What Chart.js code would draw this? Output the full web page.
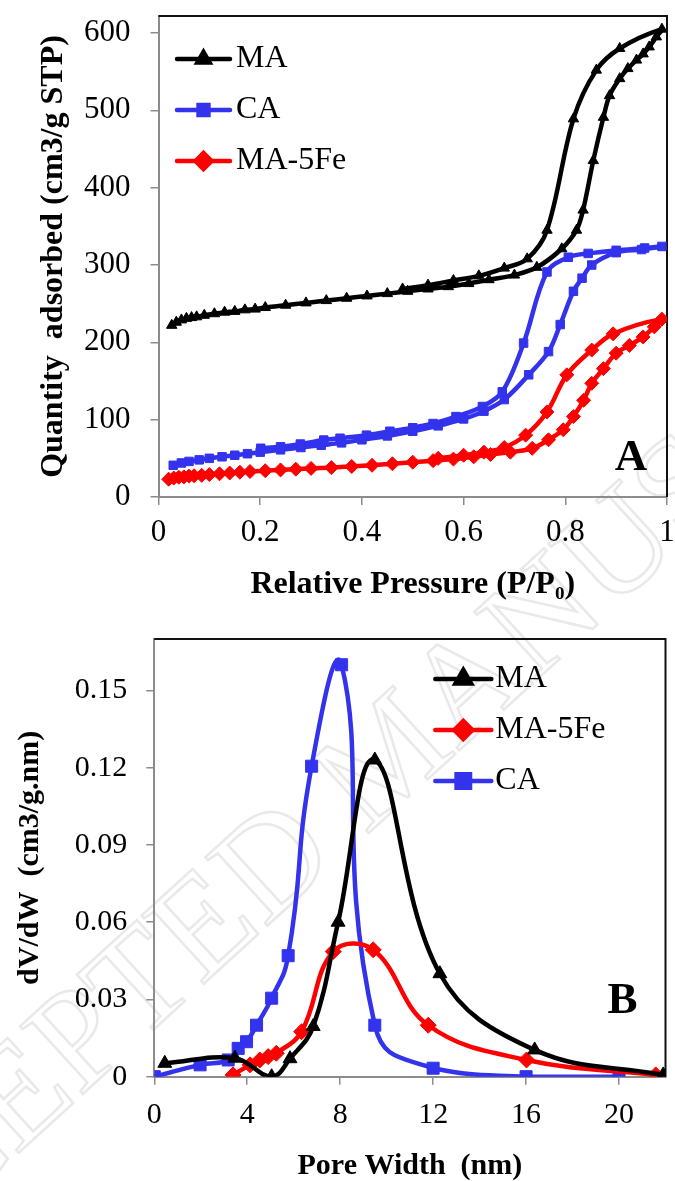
<!DOCTYPE html>
<html>
<head>
<meta charset="utf-8">
<script src="https://cdn.jsdelivr.net/npm/chart.js@4.4.1/dist/chart.umd.min.js"></script>
<style>
  html, body { margin: 0; padding: 0; background: #fff; }
  #watermark { position: absolute; left: 0; top: 0; }
  .panel { position: absolute; left: 0; width: 675px; }
  #panelA { top: 0; height: 610px; }
  #panelB { top: 610px; height: 571px; }
</style>
</head>
<body>
<canvas id="watermark" width="675" height="1181"></canvas>
<div class="panel" id="panelA"><canvas id="isothermChart"></canvas></div>
<div class="panel" id="panelB"><canvas id="poreChart"></canvas></div>
<script>
const SERIF = "'Liberation Serif', 'Times New Roman', serif";

// ---- panel A : N2 adsorption / desorption isotherms ----
const pressureTicks = [0, 0.2, 0.4, 0.6, 0.8, 1];
const quantityTicks = [0, 100, 200, 300, 400, 500, 600];

const maAdsP = [0.026, 0.035, 0.045, 0.055, 0.065, 0.075, 0.09, 0.11, 0.13, 0.15, 0.17, 0.19, 0.21, 0.25, 0.29, 0.33, 0.37, 0.41, 0.45, 0.49, 0.53, 0.57, 0.61, 0.65, 0.70, 0.744, 0.793, 0.822, 0.835, 0.855, 0.875, 0.887, 0.907, 0.923, 0.94, 0.953, 0.965, 0.979, 0.99];
const maAdsQ = [222, 226, 229, 231, 232, 233, 235, 237, 239, 240, 242, 243, 245, 248, 251, 254, 257, 260, 263, 266, 269, 272, 276, 281, 287, 297, 321, 345, 371, 435, 491, 519, 541, 554, 565, 573, 582, 595, 605];
const maDesP = [0.907, 0.861, 0.816, 0.764, 0.725, 0.68, 0.63, 0.58, 0.53, 0.48];
const maDesQ = [580, 552, 489, 345, 308, 296, 286, 280, 274, 269];

const caAdsP = [0.029, 0.045, 0.06, 0.08, 0.10, 0.125, 0.15, 0.175, 0.20, 0.24, 0.28, 0.32, 0.36, 0.40, 0.45, 0.50, 0.55, 0.60, 0.64, 0.68, 0.728, 0.767, 0.79, 0.816, 0.833, 0.852, 0.90, 0.95, 0.99];
const caAdsQ = [41, 44, 46, 48, 50, 52, 54, 56, 58, 61, 64, 67, 70, 74, 79, 85, 92, 101, 111, 126, 158, 188, 223, 266, 283, 300, 316, 320, 324];
const caDesP = [0.956, 0.90, 0.845, 0.806, 0.764, 0.718, 0.676, 0.637, 0.585, 0.54, 0.50, 0.455, 0.409, 0.357, 0.325, 0.279, 0.24, 0.201];
const caDesQ = [322, 319, 315, 310, 291, 199, 136, 117, 104, 95, 89.5, 85, 80, 76, 73.6, 68.5, 65, 63];

const feAdsP = [0.02, 0.03, 0.04, 0.05, 0.06, 0.07, 0.085, 0.10, 0.12, 0.14, 0.16, 0.18, 0.21, 0.24, 0.27, 0.30, 0.34, 0.38, 0.42, 0.46, 0.50, 0.54, 0.58, 0.62, 0.653, 0.692, 0.735, 0.767, 0.796, 0.816, 0.836, 0.852, 0.875, 0.90, 0.926, 0.953, 0.975, 0.99];
const feAdsQ = [23, 24.5, 25.5, 26, 27, 27.5, 28, 29, 30, 31, 32, 33, 34, 35, 36, 37, 38, 39.5, 41, 43, 45, 47, 49, 52, 55, 58, 63, 74, 87, 104, 125, 147, 166, 186, 196, 207, 220, 230];
const feDesP = [0.894, 0.852, 0.803, 0.764, 0.722, 0.68, 0.64, 0.60, 0.55];
const feDesQ = [211, 190, 158, 110, 80, 64, 58, 54, 50];

// ---- panel B : pore size distribution ----
const widthTicks = [0, 4, 8, 12, 16, 20];
const dvdwTicks = [0, 0.03, 0.06, 0.09, 0.12, 0.15];

const maW = [0.45, 3.47, 5.05, 5.84, 6.84, 7.91, 9.49, 12.29, 16.37, 21.9];
const maV = [0.0052, 0.0072, 0.0, 0.007, 0.0195, 0.060, 0.123, 0.040, 0.0104, 0.0007];
const feW = [3.39, 4.12, 4.54, 4.9, 5.25, 6.34, 7.7, 9.42, 11.79, 16.02, 21.58];
const feV = [0.0007, 0.0046, 0.0065, 0.0078, 0.0091, 0.0175, 0.0486, 0.0493, 0.020, 0.0065, 0.0007];
const caW = [0, 1.97, 3.18, 3.61, 3.97, 4.40, 5.05, 5.76, 6.77, 8.06, 9.49, 12.0, 16.0, 20.0];
const caV = [0, 0.0046, 0.0065, 0.011, 0.0136, 0.020, 0.0305, 0.047, 0.1206, 0.160, 0.020, 0.0033, 0, 0];

const BLACK = "#000000";
const BLUE = "#3333ee";
const RED = "#ff0000";

// faint "accepted manuscript" stamp behind both panels
const drawWatermark = () => {
  const ctx = document.getElementById("watermark").getContext("2d");
  const text = "ACCEPTED MANUSCRIPT";
  ctx.font = `141px ${SERIF}`;
  const before = ctx.measureText(text.slice(0, 7)).width;
  const half = ctx.measureText("D").width / 2;
  ctx.save();
  ctx.translate(271, 860);
  ctx.rotate(-42.4 * Math.PI / 180);
  ctx.strokeStyle = "#e9e9e9";
  ctx.lineWidth = 2.5;
  ctx.textBaseline = "alphabetic";
  ctx.strokeText(text, -(before + half), 46);
  ctx.restore();
};
drawWatermark();

const toPoints = (xs, ys) => xs.map((x, i) => ({ x, y: ys[i] }));

const series = (label, color, pointStyle, radius, data, tension, width) => ({
  label,
  data,
  showLine: true,
  borderColor: color,
  backgroundColor: color,
  borderWidth: width,
  tension,
  pointStyle,
  pointRadius: radius,
  pointHoverRadius: radius,
  pointBorderWidth: 1,
  pointBorderColor: color,
  pointBackgroundColor: color
});

const axis = ({ min, max, ticks, horizontal, size, tickFont, tickPad, title, titleFont, titlePad }) => ({
  type: "linear",
  position: horizontal ? "bottom" : "left",
  min,
  max,
  afterBuildTicks: (scale) => {
    scale.ticks = ticks.map((value) => ({ value }));
  },
  afterFit: (scale) => {
    if (horizontal) scale.height = size;
    else scale.width = size;
    scale.paddingLeft = 0;
    scale.paddingRight = 0;
    scale.paddingTop = 0;
    scale.paddingBottom = 0;
  },
  grid: { drawOnChartArea: false, tickLength: 8, color: "#8c8c8c", lineWidth: 1.5 },
  border: { color: "#8c8c8c", width: 2 },
  ticks: {
    color: BLACK,
    autoSkip: false,
    maxRotation: 0,
    padding: tickPad,
    font: { family: SERIF, size: tickFont },
    callback: (value) => String(value)
  },
  title: {
    display: true,
    text: title,
    color: BLACK,
    font: { family: SERIF, size: titleFont, weight: "bold", lineHeight: 1 },
    padding: titlePad
  }
});

// top and right edges of the plot frame
const plotFrame = {
  id: "plotFrame",
  beforeDatasetsDraw(chart) {
    const { ctx, chartArea: a } = chart;
    ctx.save();
    ctx.strokeStyle = "#111";
    ctx.lineWidth = 2;
    ctx.beginPath();
    ctx.moveTo(a.left, a.top);
    ctx.lineTo(a.right, a.top);
    ctx.lineTo(a.right, a.bottom);
    ctx.stroke();
    ctx.restore();
  }
};

const insideLegend = {
  id: "insideLegend",
  afterDraw(chart, args, opts) {
    const { ctx, chartArea: a } = chart;
    ctx.save();
    ctx.font = `${opts.fontSize}px ${SERIF}`;
    ctx.textBaseline = "middle";
    ctx.textAlign = "left";
    opts.order.forEach((dsIndex, row) => {
      const ds = chart.data.datasets[dsIndex];
      const y = a.top + opts.top + row * opts.rowGap;
      const x0 = a.left + opts.left;
      const x1 = x0 + opts.lineLength;
      ctx.strokeStyle = ds.borderColor;
      ctx.fillStyle = ds.borderColor;
      ctx.lineWidth = ds.borderWidth;
      ctx.lineCap = "round";
      ctx.beginPath();
      ctx.moveTo(x0, y);
      ctx.lineTo(x1, y);
      ctx.stroke();
      Chart.helpers.drawPoint(ctx, { pointStyle: ds.pointStyle, radius: ds.pointRadius + 1, borderWidth: 1, rotation: 0 }, (x0 + x1) / 2, y);
      ctx.fillStyle = BLACK;
      ctx.fillText(ds.label, x1 + opts.gap, y);
    });
    ctx.restore();
  }
};

const panelLetter = {
  id: "panelLetter",
  afterDraw(chart, args, opts) {
    const { ctx, chartArea: a } = chart;
    ctx.save();
    ctx.font = `bold ${opts.size}px ${SERIF}`;
    ctx.fillStyle = BLACK;
    ctx.textAlign = "center";
    ctx.textBaseline = "alphabetic";
    ctx.fillText(opts.text, a.right + opts.dx, a.bottom + opts.dy);
    ctx.restore();
  }
};

const baseOptions = (padding, scales, legend, letter) => ({
  responsive: true,
  maintainAspectRatio: false,
  animation: false,
  layout: { padding },
  scales,
  plugins: {
    legend: { display: false },
    tooltip: { enabled: false },
    insideLegend: legend,
    panelLetter: letter
  }
});

new Chart(document.getElementById("isothermChart"), {
  type: "scatter",
  data: {
    datasets: [
      series("MA", BLACK, "triangle", 6, toPoints(maAdsP.concat(maDesP), maAdsQ.concat(maDesQ)), 0.35, 4.5),
      series("CA", BLUE, "rect", 6, toPoints(caAdsP.concat(caDesP), caAdsQ.concat(caDesQ)), 0.35, 4.5),
      series("MA-5Fe", RED, "rectRot", 7, toPoints(feAdsP.concat(feDesP), feAdsQ.concat(feDesQ)), 0.35, 4.5)
    ]
  },
  options: baseOptions(
    { top: 16, right: 4, bottom: 0, left: 0 },
    {
      x: axis({ min: 0, max: 1, ticks: pressureTicks, horizontal: true, size: 113, tickFont: 31, tickPad: 9,
        title: "Relative Pressure (P/P\u2080)", titleFont: 32, titlePad: { top: 0, bottom: 9 } }),
      y: axis({ min: 0, max: 622, ticks: quantityTicks, horizontal: false, size: 158.5, tickFont: 31, tickPad: 20,
        title: "Quantity  adsorbed (cm3/g STP)", titleFont: 32, titlePad: { top: 38, bottom: 0 } })
    },
    { order: [0, 1, 2], left: 18.5, top: 43, rowGap: 51, lineLength: 53, gap: 6, fontSize: 32 },
    { text: "A", size: 45, dx: -36, dy: -27 }
  ),
  plugins: [plotFrame, insideLegend, panelLetter]
});

new Chart(document.getElementById("poreChart"), {
  type: "scatter",
  data: {
    datasets: [
      series("MA", BLACK, "triangle", 8, toPoints(maW, maV), 0.4, 4.5),
      series("MA-5Fe", RED, "rectRot", 8, toPoints(feW, feV), 0.4, 4.5),
      series("CA", BLUE, "rect", 8.5, toPoints(caW, caV), 0.5, 4.5)
    ]
  },
  options: baseOptions(
    { top: 29, right: 9, bottom: 0, left: 0 },
    {
      x: axis({ min: 0, max: 22, ticks: widthTicks, horizontal: true, size: 104.3, tickFont: 30, tickPad: 12,
        title: "Pore Width  (nm)", titleFont: 30, titlePad: { top: 0, bottom: 0 } }),
      y: axis({ min: 0, max: 0.17, ticks: dvdwTicks, horizontal: false, size: 154.3, tickFont: 30, tickPad: 19,
        title: "dV/dW  (cm3/g.nm)", titleFont: 30, titlePad: { top: 15, bottom: 0 } })
    },
    { order: [0, 1, 2], left: 281, top: 40, rowGap: 51, lineLength: 56, gap: 4, fontSize: 32 },
    { text: "B", size: 45, dx: -43, dy: -64 }
  ),
  plugins: [plotFrame, insideLegend, panelLetter]
});
</script>
</body>
</html>
